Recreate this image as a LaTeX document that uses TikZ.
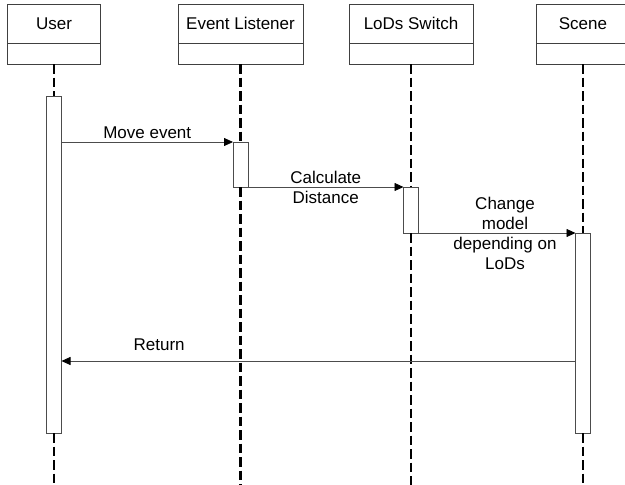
\documentclass[tikz,border=0pt]{standalone}
\usepackage{fontspec}
\setmainfont{Liberation Sans}
\usetikzlibrary{arrows.meta,positioning}

\tikzset{
  head/.style={draw=black!75, line width=0.8pt, minimum width=#1, minimum height=39pt,
               inner sep=0pt, outer sep=0pt},
  headlow/.style={draw=black!75, line width=0.8pt, minimum width=#1, minimum height=21pt,
               inner sep=0pt, outer sep=0pt},
  act/.style={draw=black!70, fill=white, line width=0.7pt, minimum width=15pt,
               inner sep=0pt, outer sep=0pt, anchor=north},
  life/.style={line width=2.6pt, dash pattern=on 9.5pt off 4pt},
  msg/.style={draw=black!70, line width=0.8pt, -{Triangle[length=9pt,width=8pt,color=black]}}
}

\begin{document}
\begin{tikzpicture}[x=1pt,y=-1pt,font=\fontsize{17}{20}\selectfont]
  \useasboundingbox (0,0) rectangle (625,485);

  % heads
  \node [head=93pt] (user) at (54,23.5) {User};
  \node [headlow=93pt, below=0pt of user] (userlow) {};
  \node [head=125pt] (listener) at (240.5,23.5) {Event Listener};
  \node [headlow=125pt, below=0pt of listener] (listenerlow) {};
  \node [head=124pt] (lods) at (411,23.5) {LoDs Switch};
  \node [headlow=124pt, below=0pt of lods] (lodslow) {};
  \node [head=94pt] (scene) at (583,23.5) {Scene};
  \node [headlow=94pt, below=0pt of scene] (scenelow) {};

  % activations
  \node [act, minimum height=337pt] (useract) at (54,96) {};
  \node [act, minimum height=45pt] (listeneract) at (240.5,142) {};
  \node [act, minimum height=46pt] (lodsact) at (411,187) {};
  \node [act, minimum height=200pt] (sceneact) at (583,233) {};

  % lifelines
  \coordinate (bottom) at (0,485);
  \draw [life] (userlow.south) -- (useract.north);
  \draw [life] (useract.south) -- (useract.south |- bottom);
  \draw [life] (listenerlow.south) -- (listeneract.north);
  \draw [life] (listeneract.south) -- (listeneract.south |- bottom);
  \draw [life] (lodslow.south) -- (lodsact.north);
  \draw [life] (lodsact.south) -- (lodsact.south |- bottom);
  \draw [life] (scenelow.south) -- (sceneact.north);
  \draw [life] (sceneact.south) -- (sceneact.south |- bottom);

  % messages
  \draw [msg] (useract.east |- listeneract.north) -- (listeneract.north west)
    node [midway, above] {Move event};
  \draw [msg] (listeneract.south east) -- (lodsact.north west)
    node [midway, align=center] {Calculate\\Distance};
  \draw [msg] (lodsact.south east) -- (sceneact.north west)
    node [midway, xshift=8pt, align=center] {Change\\model\\depending on\\LoDs};
  \coordinate (ret) at (0,361);
  \draw [msg] (sceneact.west |- ret) -- (useract.east |- ret)
    node [pos=0.81, above=7pt] {Return};
\end{tikzpicture}
\end{document}
